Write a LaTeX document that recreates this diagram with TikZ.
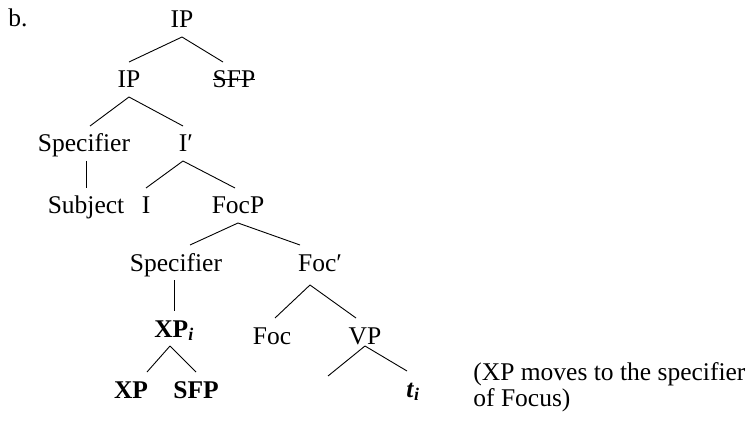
\documentclass[tikz,border=0pt]{standalone}
\usepackage{fontspec}
\setmainfont{Liberation Serif}
\tikzset{
  lab/.style={inner sep=0pt,outer xsep=0pt,outer ysep=9pt,text height=17pt,text depth=0pt,anchor=base},
}

\begin{document}
\begin{tikzpicture}[x=1pt,y=-1pt,line width=0.9pt,font=\fontsize{25.5}{26.5}\selectfont]
\path[use as bounding box] (0,0) rectangle (753,425);
\node[anchor=base west,inner sep=0pt] (label) at (8,27) {b.};
% upper part
\node[lab] (IPtop) at (182,28) {IP};
\node[lab] (IPmid) at (129,88) {IP};
\node[lab] (SFPs) at (234,88) {SFP};
\node[lab] (SpecA) at (84,152) {Specifier};
\node[lab] (Ibar) at (186,152) {I′};
\node[lab] (Subj) at (86,214) {Subject};
\node[lab] (I) at (146,214) {I};
\node[lab] (FocP) at (238,214) {FocP};
% focus part
\node[lab] (SpecB) at (176,271) {Specifier};
\node[lab] (Focbar) at (320,271) {Foc′};
\node[lab] (XPi) at (174,337) {\textbf{XP\textsubscript{\textit{i}}}};
\node[lab] (Foc) at (272,344) {Foc};
\node[lab] (VP) at (365,344) {VP};
\node[lab] (XP) at (131,398) {\textbf{XP}};
\node[lab] (SFP) at (196,398) {\textbf{SFP}};
\node[lab] (ti) at (413,397) {\textbf{\textit{t}\textsubscript{\textit{i}}}};
\coordinate (VPleft) at (328,376);
\node[anchor=north west,inner sep=0pt,align=left] (note) at (473,362) {(XP moves to the specifier\\of Focus)};

\draw (IPtop.south) -- (IPmid.north);
\draw (IPtop.south) -- ([xshift=-11pt]SFPs.north);
\draw (SFPs.west) -- (SFPs.east);
\draw (IPmid.south) -- ([xshift=6pt]SpecA.north);
\draw (IPmid.south) -- ([xshift=-3pt]Ibar.north);
\draw (SpecA.south -| Subj.north) -- (Subj.north);
\draw ([xshift=-3pt]Ibar.south) -- (I.north);
\draw ([xshift=-3pt]Ibar.south) -- ([xshift=-3pt]FocP.north);
\draw (FocP.south) -- ([xshift=14pt]SpecB.north);
\draw (FocP.south) -- ([xshift=-20pt]Focbar.north);
\draw (SpecB.south -| XPi.north) -- (XPi.north);
\draw ([xshift=-10pt,yshift=-5pt]Focbar.south) -- ([xshift=3pt]Foc.north);
\draw ([xshift=-10pt,yshift=-5pt]Focbar.south) -- ([xshift=-9pt]VP.north);
\draw ([xshift=-4pt]XPi.south) -- ([xshift=16pt]XP.north);
\draw ([xshift=-4pt]XPi.south) -- (SFP.north);
\draw ([yshift=7pt]VP.south) -- (VPleft);
\draw ([yshift=7pt]VP.south) -- ([xshift=-6pt]ti.north);
\end{tikzpicture}
\end{document}
